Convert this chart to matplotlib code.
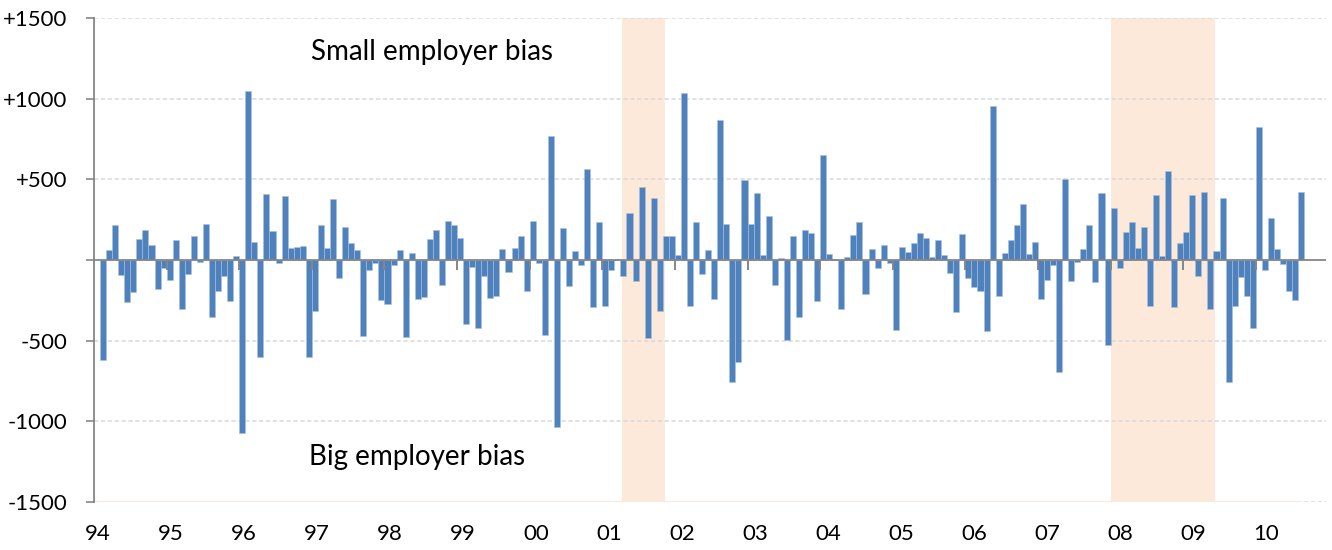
import numpy as np
import matplotlib
matplotlib.use("Agg")
import matplotlib.pyplot as plt
from matplotlib.ticker import FuncFormatter

# monthly difference, small minus big employers (Feb 1994 onward)
values = [
    -620, 65, 215, -95, -259, -197, 130, 184, 93, -180, -52, -124,
    122, -302, -87, 147, -12, 226, -356, -193, -101, -255, 23, -1072,
    1049, 110, -600, 406, 182, -17, 397, 72, 81, 89, -600, -319,
    215, 72, 379, -112, 203, 106, 62, -474, -62, -21, -250, -271,
    -33, 64, -478, 41, -242, -230, 130, 184, -153, 242, 215, 135,
    -397, -41, -420, -97, -234, -221, 66, -75, 77, 147, -190, 242,
    -17, -464, 766, -1035, 201, -159, 54, -31, 561, -290, 236, -286,
    -60, 4, -97, 292, -130, 453, -484, 387, -319, 149, 151, 33,
    1033, -286, 238, -89, 64, -240, 867, 226, -758, -633, 493, 221,
    418, 31, 273, -153, 10, -497, 147, -352, 188, 168, -255, 648,
    39, 4, -306, 17, 157, 236, -211, 68, -50, 95, -21, -435,
    83, 50, 106, 170, 135, 21, 122, 29, -81, -323, 159, -112,
    -166, -190, -441, 954, -224, 41, 126, 215, 350, 35, 114, -242,
    -124, -31, -693, 501, -130, -10, 66, 215, -135, 418, -524, 321,
    -50, 176, 236, 72, 203, -286, 400, 23, 553, -294, 104, 172,
    402, -101, 424, -304, 56, 383, -756, -286, -108, -224, -420, 826,
    -62, 259, 68, -25, -190, -250, 424,
]
first_month = 1            # months counted from Jan 1994
year_labels = ['94', '95', '96', '97', '98', '99', '00', '01', '02',
               '03', '04', '05', '06', '07', '08', '09', '10']
# recession shading, in months from Jan 1994
recessions = [(87.2, 94.4), (168.0, 185.3)]
y_ticks = [-1500, -1000, -500, 0, 500, 1000, 1500]

plt.rcParams['font.family'] = ['Lato', 'DejaVu Sans']

fig = plt.figure(figsize=(13.32, 5.5), dpi=100)
ax = fig.add_axes([94/1332, 1 - 502/550, (1326 - 94)/1332, (502 - 18)/550])

blue = '#4F81BD'
grey = '#868686'
peach = '#FDE9D9'

months = np.arange(first_month, first_month + len(values))
ax.bar(months, values, width=1.0, align='edge', color=blue,
       edgecolor='#A9C1DF', linewidth=0.4, zorder=3)

for start, end in recessions:
    ax.axvspan(start, end, color=peach, lw=0, zorder=0)
ax.hlines(-1500, months[0] - 0.5, months[-1] + 0.5, color=peach, lw=1.6, zorder=2)

ax.set_ylim(-1500, 1500)
ax.set_xlim(0, 203.6)
ax.set_yticks(y_ticks)
ax.yaxis.set_major_formatter(FuncFormatter(
    lambda v, p: '' if v == 0 else ('+%d' % v if v > 0 else '%d' % v)))

for v in y_ticks:
    if v != 0:
        ax.axhline(v, color='#D9D9D9', lw=1.1, ls=(0, (2.8, 1.7)), zorder=1)

# zero line with year tick marks
year_pos = np.arange(0, 12 * len(year_labels), 12)
ax.axhline(0, color=grey, lw=1.3, zorder=4)
ax.plot(year_pos[1:], np.zeros(len(year_pos) - 1), ls='none', marker=3,
        markersize=7, color=grey, markeredgewidth=1.4, zorder=4)

ax.set_xticks(year_pos + 0.7 + np.arange(len(year_pos)) * 0.06)
ax.set_xticklabels(year_labels)
ax.tick_params(axis='x', length=0, pad=16, labelsize=16)
ax.tick_params(axis='y', length=6, width=1.2, color=grey, pad=13, labelsize=16)

for s in ['top', 'right', 'bottom']:
    ax.spines[s].set_visible(False)
ax.spines['left'].set_color(grey)
ax.spines['left'].set_linewidth(1.3)

ax.text(0.274, 0.93, 'Small employer bias', transform=ax.transAxes,
        ha='center', va='center', fontsize=20)
ax.text(0.262, 0.093, 'Big employer bias', transform=ax.transAxes,
        ha='center', va='center', fontsize=20)

fig.savefig('out.png', dpi=100)
